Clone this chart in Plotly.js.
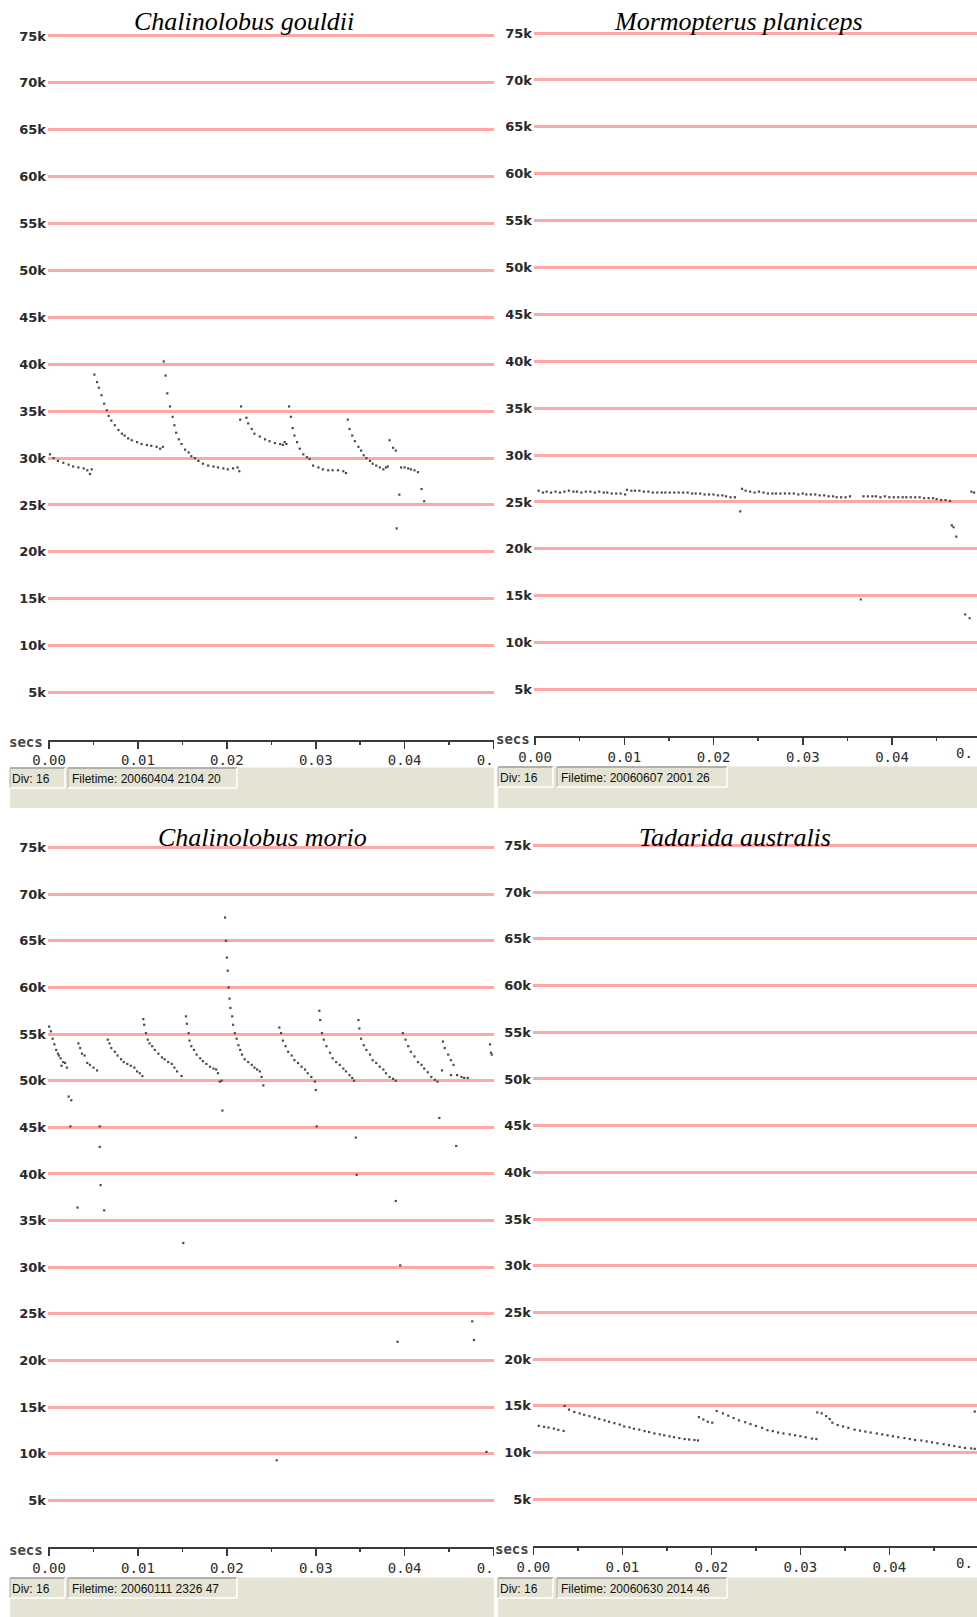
<!DOCTYPE html>
<html><head><meta charset="utf-8">
<script src="https://cdn.plot.ly/plotly-3.0.1.min.js"></script>
<style>html,body{margin:0;padding:0;background:#fff;}#chart{width:977px;height:1617px;}</style>
</head><body><div id="chart"></div>
<script>
// ---------------- data (time in seconds, frequency in kHz) ----------------
const speciesNames = ['Chalinolobus gouldii', 'Mormopterus planiceps', 'Chalinolobus morio', 'Tadarida australis'];
const fileTimes = ['Filetime: 20060404 2104 20', 'Filetime: 20060607 2001 26', 'Filetime: 20060111 2326 47', 'Filetime: 20060630 2014 46'];
const divLabel = 'Div: 16';
const axisUnit = 'secs';
const freqTickVals = [5, 10, 15, 20, 25, 30, 35, 40, 45, 50, 55, 60, 65, 70, 75];
const freqTickText = ['5k', '10k', '15k', '20k', '25k', '30k', '35k', '40k', '45k', '50k', '55k', '60k', '65k', '70k', '75k'];
const timeTickVals = [0, 0.01, 0.02, 0.03, 0.04, 0.05];
const timeTickText = ['0.00', '0.01', '0.02', '0.03', '0.04', '0.\u00a0\u00a0'];
const cutTickText = '0.';

const gouldiiT = [0.0001,0.0005,0.0010,0.0016,0.0022,0.0027,0.0033,0.0039,0.0043,0.0046,0.0048,
  0.0051,0.0054,0.0056,0.0059,0.0062,0.0065,0.0067,0.0070,0.0074,0.0078,0.0082,0.0085,0.0089,0.0093,0.0099,0.0104,0.0110,0.0115,0.0121,0.0125,0.0128,
  0.0129,0.0131,0.0133,0.0136,0.0139,0.0141,0.0143,0.0146,0.0149,0.0153,0.0157,0.0160,0.0164,0.0168,0.0173,0.0179,0.0185,0.0190,0.0196,0.0201,0.0207,0.0212,0.0214,
  0.0216,0.0215,0.0222,0.0224,0.0228,0.0231,0.0237,0.0243,0.0248,0.0254,0.0260,0.0263,0.0265,0.0267,
  0.0270,0.0272,0.0274,0.0276,0.0279,0.0282,0.0286,0.0290,0.0293,0.0297,0.0303,0.0308,0.0314,0.0319,0.0325,0.0331,0.0334,
  0.0336,0.0338,0.0341,0.0344,0.0348,0.0351,0.0354,0.0357,0.0361,0.0364,0.0368,0.0372,0.0376,0.0379,0.0381,
  0.0383,0.0387,0.0390,0.0391,0.0394,0.0396,0.0400,0.0404,0.0407,0.0411,0.0415,0.0419,0.0422];
const gouldiiF = [30.4,30.0,29.7,29.5,29.3,29.1,29.0,28.9,28.7,28.3,28.8,
  38.9,38.1,37.5,36.7,35.8,35.1,34.5,34.0,33.5,33.0,32.6,32.4,32.1,31.9,31.7,31.5,31.4,31.3,31.2,31.0,31.2,
  40.3,38.8,36.9,35.5,34.4,33.5,32.7,32.0,31.5,30.9,30.6,30.2,30.0,29.7,29.4,29.2,29.1,29.0,28.9,28.8,28.9,29.0,28.6,
  35.5,34.1,34.3,33.7,33.1,32.6,32.3,32.0,31.8,31.6,31.5,31.4,31.7,31.5,
  35.5,34.4,33.2,32.4,31.7,31.0,30.4,30.1,29.9,29.2,29.0,28.8,28.7,28.7,28.7,28.6,28.4,
  34.1,33.1,32.4,31.8,31.2,30.8,30.3,30.0,29.7,29.4,29.2,29.0,28.8,29.0,29.1,
  31.9,31.1,30.8,22.5,26.1,29.0,29.0,28.9,28.8,28.7,28.5,26.7,25.4];

const planicepsT = [0.0004,0.0009,0.0013,0.0018,0.0023,0.0028,0.0033,0.0038,0.0043,0.0047,0.0052,0.0057,0.0062,0.0067,0.0072,0.0077,0.0081,0.0086,0.0091,0.0096,0.0101,
  0.0103,0.0108,0.0112,0.0117,0.0122,0.0127,0.0132,0.0137,0.0142,0.0146,0.0151,0.0156,0.0161,0.0166,0.0171,0.0176,0.0180,0.0185,0.0190,0.0195,0.0200,0.0205,0.0210,0.0214,0.0219,0.0224,
  0.0230,
  0.0232,0.0236,0.0241,0.0246,0.0251,0.0256,0.0261,0.0266,0.0270,0.0275,0.0280,0.0285,0.0290,0.0295,0.0300,0.0304,0.0309,0.0314,0.0319,0.0324,0.0329,0.0334,0.0338,0.0343,0.0348,0.0353,
  0.0365,
  0.0368,0.0373,0.0378,0.0382,0.0387,0.0392,0.0397,0.0402,0.0407,0.0412,0.0416,0.0421,0.0426,0.0431,0.0436,0.0441,0.0446,0.0450,0.0455,0.0460,0.0465,
  0.0467,0.0469,0.0472,0.0482,0.0487,0.0489,0.0492];
const planicepsF = [26.2,26.0,26.1,26.0,26.1,26.0,26.1,26.2,26.1,26.1,26.0,26.1,26.1,26.0,26.1,26.0,26.0,25.9,25.9,25.9,25.8,
  26.3,26.2,26.2,26.2,26.1,26.1,26.0,26.0,26.0,26.0,26.0,26.0,26.0,26.0,26.0,25.9,25.9,25.9,25.8,25.8,25.8,25.7,25.7,25.6,25.5,25.5,
  24.0,
  26.4,26.2,26.1,26.0,26.1,26.0,25.9,25.9,25.9,25.9,25.9,25.9,25.9,25.8,25.9,25.8,25.8,25.8,25.7,25.7,25.6,25.6,25.5,25.5,25.5,25.6,
  14.6,
  25.6,25.6,25.6,25.6,25.5,25.6,25.5,25.5,25.5,25.5,25.5,25.5,25.5,25.5,25.4,25.4,25.4,25.3,25.2,25.2,25.1,
  22.5,22.3,21.3,13.0,12.6,26.1,26.0];

const morioT = [0.0000,0.0002,0.0004,0.0006,0.0008,0.0010,0.0011,0.0013,0.0016,0.0018,0.0014,0.0020,
  0.0022,0.0025,0.0024,0.0032,
  0.0033,0.0035,0.0037,0.0040,0.0043,0.0046,0.0050,0.0054,
  0.0057,0.0057,0.0058,0.0062,
  0.0066,0.0068,0.0070,0.0074,0.0077,0.0081,0.0084,0.0088,0.0092,0.0096,0.0099,0.0102,0.0105,
  0.0106,0.0107,0.0109,0.0111,0.0113,0.0116,0.0119,0.0123,0.0127,0.0130,0.0134,0.0138,0.0141,0.0144,0.0149,
  0.0151,
  0.0154,0.0155,0.0157,0.0158,0.0160,0.0163,0.0166,0.0170,0.0173,0.0177,0.0181,0.0185,0.0188,0.0190,0.0192,0.0194,
  0.0195,
  0.0198,0.0199,0.0200,0.0201,0.0202,0.0203,0.0204,0.0206,0.0207,0.0209,0.0211,0.0213,0.0215,0.0217,0.0220,0.0224,0.0228,0.0231,0.0234,0.0237,0.0239,0.0241,
  0.0256,
  0.0259,0.0261,0.0263,0.0266,0.0269,0.0273,0.0276,0.0280,0.0284,0.0288,0.0291,0.0295,0.0299,0.0300,0.0301,
  0.0304,0.0305,0.0307,0.0309,0.0312,0.0316,0.0319,0.0323,0.0327,0.0331,0.0334,0.0338,0.0341,0.0343,
  0.0345,0.0346,
  0.0348,0.0349,0.0351,0.0354,0.0357,0.0361,0.0364,0.0368,0.0372,0.0376,0.0379,0.0383,0.0387,0.0390,
  0.0390,0.0395,0.0392,
  0.0398,0.0401,0.0404,0.0407,0.0411,0.0415,0.0419,0.0422,0.0426,0.0430,0.0434,0.0437,
  0.0439,
  0.0443,0.0445,0.0449,0.0452,0.0455,0.0442,0.0452,0.0459,0.0464,0.0467,0.0471,
  0.0458,0.0476,0.0478,0.0492,
  0.0496,0.0497,0.0498];
const morioF = [55.8,55.3,54.5,53.9,53.3,52.9,52.7,52.4,52.0,51.9,51.6,51.4,
  48.3,47.9,45.1,36.4,
  54.0,53.5,52.9,52.7,51.9,51.7,51.4,51.1,
  45.1,42.9,38.8,36.1,
  54.4,54.0,53.5,53.1,52.7,52.3,52.0,51.8,51.6,51.4,51.0,50.8,50.5,
  56.6,56.0,55.1,54.4,54.0,53.7,53.3,52.9,52.5,52.3,52.0,51.8,51.4,51.0,50.5,
  32.6,
  56.9,56.1,55.1,54.3,53.7,53.3,52.8,52.4,52.1,51.8,51.5,51.3,51.2,50.8,49.9,50.0,
  46.8,
  67.5,65.0,63.2,61.8,60.0,58.8,57.8,56.9,56.0,55.1,54.5,53.8,53.3,52.8,52.3,52.0,51.7,51.4,51.2,51.0,50.4,49.5,
  9.3,
  55.7,55.1,54.3,53.7,53.1,52.7,52.2,51.9,51.5,51.2,50.8,50.4,49.9,49.0,45.1,
  57.5,56.5,55.1,54.4,53.7,53.0,52.4,52.0,51.7,51.3,51.0,50.6,50.3,50.0,
  43.9,39.9,
  56.5,55.6,54.5,53.8,53.3,52.8,52.2,51.9,51.5,51.2,50.8,50.4,50.2,50.0,
  37.1,30.2,22.0,
  55.1,54.4,53.7,53.1,52.6,52.0,51.7,51.3,50.9,50.4,50.1,49.9,
  46.0,
  54.2,53.5,52.8,52.2,51.7,51.1,50.6,50.6,50.4,50.3,50.3,
  43.0,24.2,22.2,10.2,
  53.9,53.0,52.8];

const australisT = [0.0006,0.0012,0.0017,0.0023,0.0028,0.0034,
  0.0035,0.0040,0.0046,0.0052,0.0057,0.0063,0.0069,0.0074,0.0080,0.0085,0.0091,0.0097,0.0102,0.0108,0.0113,0.0119,0.0125,0.0130,0.0136,0.0142,0.0147,0.0153,0.0158,0.0164,0.0170,0.0175,0.0181,0.0185,
  0.0186,0.0191,0.0196,0.0201,
  0.0206,0.0213,0.0219,0.0225,0.0231,0.0238,0.0244,0.0250,0.0257,0.0263,0.0269,0.0275,0.0281,0.0288,0.0294,0.0300,0.0306,0.0313,0.0318,
  0.0319,0.0324,0.0329,0.0333,0.0336,0.0342,0.0348,0.0354,0.0361,0.0367,0.0373,0.0379,0.0386,0.0392,0.0398,0.0404,0.0410,0.0417,0.0423,0.0429,0.0436,0.0442,0.0448,0.0454,0.0461,0.0467,0.0473,0.0479,0.0485,0.0492,0.0496,
  0.0496];
const australisF = [12.86,12.75,12.68,12.57,12.43,12.32,
  15.0,14.6,14.35,14.2,14.05,13.9,13.75,13.6,13.45,13.3,13.15,13.0,12.8,12.7,12.55,12.45,12.3,12.2,12.05,11.95,11.85,11.75,11.65,11.55,11.45,11.4,11.35,11.3,
  13.8,13.55,13.3,13.2,
  14.45,14.2,13.95,13.7,13.45,13.25,13.05,12.85,12.65,12.4,12.3,12.15,12.05,11.95,11.85,11.75,11.65,11.5,11.45,
  14.3,14.2,13.9,13.6,13.2,12.95,12.8,12.65,12.45,12.35,12.25,12.15,12.05,11.95,11.85,11.75,11.65,11.55,11.45,11.35,11.3,11.2,11.1,11.0,10.9,10.8,10.7,10.6,10.5,10.45,10.4,
  14.4];

const seriesT = [gouldiiT, planicepsT, morioT, australisT];
const seriesF = [gouldiiF, planicepsF, morioF, australisF];

// ---------------- layout (pixel geometry of each screen panel) ----------------
const W = 977, H = 1617;
const fx = v => v / W, fy = v => 1 - v / H;
const frames = [
  {x0: 48, x1: 494, xr: [-0.00012, 0.05005], yBot: 739.5, yTop: 17.2, title: [244.5, 21], foot: [10, 494, 767, 808], boxes: [[10, 65], [68, 237]], secs: 45, cut: null},
  {x0: 534, x1: 977, xr: [-0.000112, 0.049524], yBot: 736.4, yTop: 14.3, title: [738, 21], foot: [498, 977, 766, 808], boxes: [[498, 553], [557, 727]], secs: 532, cut: 975},
  {x0: 48, x1: 494, xr: [-0.00012, 0.05005], yBot: 1547, yTop: 828.9, title: [262.6, 837], foot: [10, 494, 1577, 1617], boxes: [[10, 65], [68, 237]], secs: 45, cut: null},
  {x0: 533, x1: 977, xr: [-0.000045, 0.049854], yBot: 1546, yTop: 826.8, title: [735, 837], foot: [498, 977, 1577, 1617], boxes: [[498, 553], [557, 727]], secs: 531, cut: 975}
];

const axisDark = '#3a3a3a';
const beige = '#e5e3d3';
const traces = [];
const layout = {
  width: W, height: H,
  margin: {l: 0, r: 0, t: 0, b: 0},
  paper_bgcolor: '#ffffff', plot_bgcolor: '#ffffff',
  showlegend: false,
  shapes: [], annotations: []
};

frames.forEach((f, i) => {
  const n = i === 0 ? '' : String(i + 1);
  const xId = 'x' + n, yId = 'y' + n;
  traces.push({
    type: 'scatter', mode: 'markers', x: seriesT[i], y: seriesF[i],
    xaxis: xId, yaxis: yId, hoverinfo: 'skip',
    marker: {symbol: 'square', size: 2.2, color: '#4a4a4a', line: {width: 0}}
  });
  layout['xaxis' + n] = {
    domain: [fx(f.x0), fx(f.x1)], range: f.xr, anchor: yId,
    showgrid: false, zeroline: false, showline: true, linecolor: axisDark, linewidth: 2,
    ticks: 'outside', ticklen: 7, tickwidth: 1.5, tickcolor: axisDark,
    tickmode: 'array', tickvals: timeTickVals, ticktext: timeTickText,
    tickfont: {family: 'DejaVu Sans Mono', size: 14, color: '#2e2e2e'},
    minor: {dtick: 0.005, tick0: 0, ticks: 'outside', ticklen: 3, tickwidth: 1.5, tickcolor: axisDark, showgrid: false},
    fixedrange: true
  };
  layout['yaxis' + n] = {
    domain: [fy(f.yBot), fy(f.yTop)], range: [0, 77], anchor: xId,
    showgrid: true, gridcolor: '#ffa6a6', gridwidth: 3,
    zeroline: false, showline: false, ticks: '',
    tickmode: 'array', tickvals: freqTickVals, ticktext: freqTickText,
    tickfont: {family: 'DejaVu Sans', size: 13, color: '#2a2a2a', weight: 'bold'},
    ticklabelstandoff: 1,
    fixedrange: true
  };
  // species title
  layout.annotations.push({
    xref: 'paper', yref: 'paper', x: fx(f.title[0]), y: fy(f.title[1]),
    xanchor: 'center', yanchor: 'middle', showarrow: false,
    text: '<i>' + speciesNames[i] + '</i>',
    font: {family: 'Liberation Serif', size: 26, color: '#000000'}
  });
  // "secs" unit label
  layout.annotations.push({
    xref: 'paper', yref: 'paper', x: fx(f.secs), y: fy(f.yBot + 3),
    xanchor: 'right', yanchor: 'middle', showarrow: false, text: axisUnit,
    font: {family: 'DejaVu Sans Mono', size: 14, color: '#444444', weight: 'bold'}
  });
  if (f.cut) {
    layout.annotations.push({
      xref: 'paper', yref: 'paper', x: fx(f.cut), y: fy(f.yBot + 17),
      xanchor: 'right', yanchor: 'middle', showarrow: false, text: cutTickText,
      font: {family: 'DejaVu Sans Mono', size: 14, color: '#2e2e2e'}
    });
  }
  // status bar
  const [bx0, bx1, by0, by1] = f.foot;
  layout.shapes.push({type: 'rect', xref: 'paper', yref: 'paper', x0: fx(bx0), x1: fx(bx1), y0: fy(by0), y1: fy(by1), fillcolor: beige, line: {width: 0}, layer: 'below'});
  layout.shapes.push({type: 'line', xref: 'paper', yref: 'paper', x0: fx(bx0), x1: fx(bx1), y0: fy(by0), y1: fy(by0), line: {color: '#ffffff', width: 1}});
  f.boxes.forEach((b, k) => {
    const t0 = by0 + 1, t1 = by0 + 21;
    layout.shapes.push({type: 'line', xref: 'paper', yref: 'paper', x0: fx(b[0]), x1: fx(b[1]), y0: fy(t0), y1: fy(t0), line: {color: '#9c9c9c', width: 1.5}});
    layout.shapes.push({type: 'line', xref: 'paper', yref: 'paper', x0: fx(b[0]), x1: fx(b[0]), y0: fy(t0), y1: fy(t1), line: {color: '#b0b0b0', width: 1}});
    layout.shapes.push({type: 'line', xref: 'paper', yref: 'paper', x0: fx(b[0]), x1: fx(b[1]), y0: fy(t1), y1: fy(t1), line: {color: '#ffffff', width: 1.5}});
    layout.shapes.push({type: 'line', xref: 'paper', yref: 'paper', x0: fx(b[1]), x1: fx(b[1]), y0: fy(t0), y1: fy(t1), line: {color: '#ffffff', width: 1.5}});
    layout.annotations.push({
      xref: 'paper', yref: 'paper', x: fx(b[0] + (k === 0 ? 0 : 2)), y: fy((t0 + t1) / 2 + 1),
      xanchor: 'left', yanchor: 'middle', showarrow: false,
      text: k === 0 ? divLabel : fileTimes[i],
      font: {family: 'Liberation Sans', size: 12, color: '#111111'}
    });
  });
});

Plotly.newPlot('chart', traces, layout, {staticPlot: true, displayModeBar: false});
</script>
</body></html>
